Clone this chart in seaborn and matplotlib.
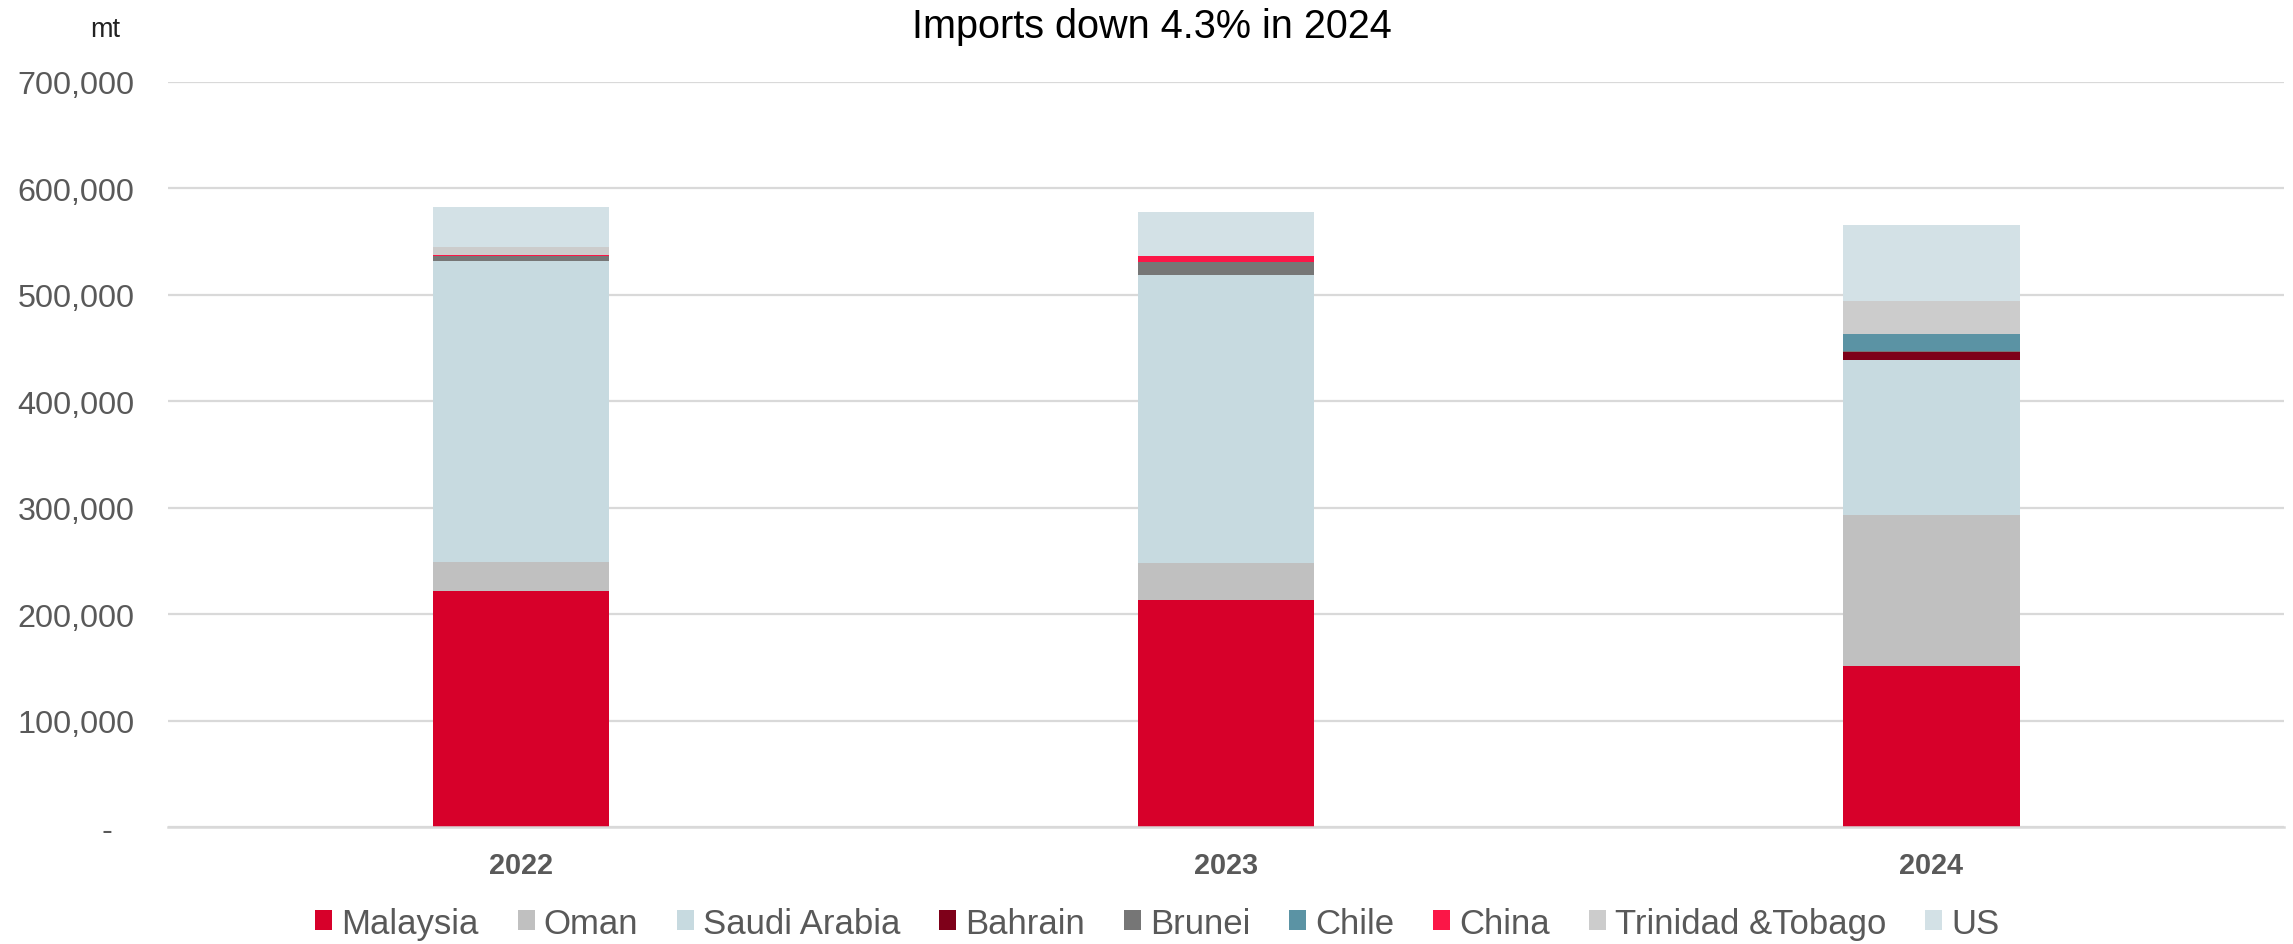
import numpy as np
import pandas as pd
import matplotlib
matplotlib.use("Agg")
import matplotlib.pyplot as plt
from matplotlib.ticker import FuncFormatter, MultipleLocator
from matplotlib.transforms import ScaledTranslation
import seaborn as sns

# Annual imports by origin, metric tonnes
years = ["2022", "2023", "2024"]
malaysia = [222000, 213000, 151600]
oman = [26800, 35400, 141600]
saudi_arabia = [283000, 270300, 145900]
bahrain = [0, 0, 7500]
brunei = [4700, 12500, 1000]
chile = [0, 0, 15400]
china = [600, 5300, 0]
trinidad_tobago = [7800, 0, 31200]
us = [37800, 41600, 71000]

series = [
    ("Malaysia", malaysia, "#D7002A"),
    ("Oman", oman, "#C0C0C0"),
    ("Saudi Arabia", saudi_arabia, "#C7DAE0"),
    ("Bahrain", bahrain, "#7E0019"),
    ("Brunei", brunei, "#767676"),
    ("Chile", chile, "#5B93A4"),
    ("China", china, "#FB1647"),
    ("Trinidad &Tobago", trinidad_tobago, "#CCCCCC"),
    ("US", us, "#D3E1E6"),
]

df = pd.DataFrame({"year": years})
for name, vals, _ in series:
    df[name] = vals

sns.set_theme(style="white")
plt.rcParams["font.family"] = ["Liberation Sans", "DejaVu Sans"]

fig = plt.figure(figsize=(22.93, 9.45), dpi=100)
ax = fig.add_axes([0.0733, 0.1238, 0.9228, 0.7884])

bottom = np.zeros(len(years))
for name, vals, color in series:
    sns.barplot(data=df, x="year", y=name, color=color, saturation=1,
                width=0.25, bottom=bottom.copy(), label=name, errorbar=None,
                linewidth=0, ax=ax)
    bottom += np.asarray(vals, dtype=float)

if ax.get_legend() is not None:
    ax.get_legend().remove()

ax.set_xlim(-0.5, 2.5)
ax.set_ylim(0, 700000)
ax.yaxis.set_major_locator(MultipleLocator(100000))
ax.yaxis.set_major_formatter(FuncFormatter(lambda v, p: f"{v:,.0f}" if v else "-"))
ax.set_xlabel("")
ax.set_ylabel("")

ax.yaxis.grid(True, color="#D9D9D9", linewidth=1.6)
ax.xaxis.grid(False)
ax.set_axisbelow(True)
for side in ["top", "right", "left"]:
    ax.spines[side].set_visible(False)
ax.spines["bottom"].set_color("#D9D9D9")
ax.spines["bottom"].set_linewidth(1.8)

ax.tick_params(axis="y", length=0, pad=24, labelsize=23.3, labelcolor="#595959")
ax.tick_params(axis="x", length=0, pad=17, labelsize=20.8, labelcolor="#595959")
for lab in ax.get_xticklabels():
    lab.set_fontweight("bold")

# Accounting-style dash for zero sits left of the number column
fig.canvas.draw()
for lab in ax.get_yticklabels():
    if lab.get_text() == "-":
        lab.set_transform(lab.get_transform() + ScaledTranslation(-0.22, 0, fig.dpi_scale_trans))

fig.text(0.5022, 1 - 27 / 945, "Imports down 4.3% in 2024", ha="center", va="center",
         fontsize=28.5, color="black")
fig.text(90 / 2293, 1 - 30 / 945, "mt", ha="left", va="center",
         fontsize=19.5, color="#222222")

handles, labels = ax.get_legend_handles_labels()
fig.legend(handles, labels, loc="center", bbox_to_anchor=(0.5048, 0.0222), ncol=9,
           frameon=False, fontsize=25, labelcolor="#595959",
           handlelength=0.49, handleheight=0.49, handletextpad=0.26,
           columnspacing=1.12, borderaxespad=0, borderpad=0)

fig.savefig("out.png", dpi=100)
